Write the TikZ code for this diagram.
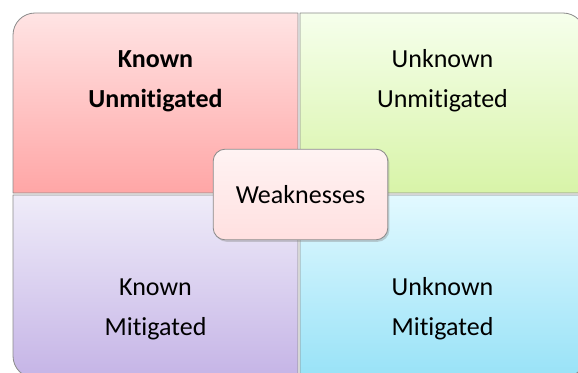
\documentclass[tikz,border=0pt]{standalone}
\usepackage{fontspec}
\setmainfont[Ligatures=NoCommon]{Carlito}
\usetikzlibrary{shadows}

\definecolor{tlTop}{HTML}{FFE4E4}
\definecolor{tlBot}{HTML}{FFA6A6}
\definecolor{trTop}{HTML}{F6FFEC}
\definecolor{trBot}{HTML}{D8F4A8}
\definecolor{blTop}{HTML}{EFECF9}
\definecolor{blBot}{HTML}{C5B4E6}
\definecolor{brTop}{HTML}{E2F9FF}
\definecolor{brBot}{HTML}{98E2F7}
\definecolor{ctTop}{HTML}{FFF3F3}
\definecolor{ctBot}{HTML}{FFE0E0}
\definecolor{edgeGray}{HTML}{8A8A8A}

\begin{document}
\begin{tikzpicture}[x=0.75pt,y=0.75pt]
\tikzset{
  quadfill/.style={draw=edgeGray,line width=0.6pt,line join=round},
  quadlabel/.style={anchor=base,align=center,inner sep=0pt,font=\fontsize{19.5}{30}\selectfont},
  centerbox/.style={draw=edgeGray,line width=0.6pt,rounded corners=9pt,minimum width=131pt,minimum height=68pt,
    top color=ctTop,bottom color=ctBot,drop shadow={opacity=0.35,shadow xshift=1.2pt,shadow yshift=-1.5pt},
    font=\fontsize{19.5}{24}\selectfont,inner sep=0pt}
}
\useasboundingbox (0,0) rectangle (578,372);
\clip (0,0) rectangle (578,372);
% quadrants
\shadedraw[quadfill,top color=tlTop,bottom color=tlBot] (13,179) -- (13,337) arc[start angle=180,end angle=90,radius=22] -- (298,359) -- (298,179) -- cycle;
\shadedraw[quadfill,top color=trTop,bottom color=trBot] (300,179) -- (300,359) -- (563,359) arc[start angle=90,end angle=0,radius=22] -- (585,179) -- cycle;
\shadedraw[quadfill,top color=blTop,bottom color=blBot] (13,177) -- (298,177) -- (298,-6) -- (35,-6) arc[start angle=270,end angle=180,radius=22] -- cycle;
\shadedraw[quadfill,top color=brTop,bottom color=brBot] (300,177) -- (585,177) -- (585,16) arc[start angle=0,end angle=-90,radius=22] -- (300,-6) -- cycle;
% labels (base = last line)
\node[quadlabel,font=\fontsize{19.5}{30}\selectfont\bfseries] (knownUnmit) at (155.5,264) {Known\\Unmitigated};
\node[quadlabel] (unknownUnmit) at (442.5,264) {Unknown\\Unmitigated};
\node[quadlabel] (knownMit) at (155.5,37) {Known\\Mitigated};
\node[quadlabel] (unknownMit) at (442.5,37) {Unknown\\Mitigated};
% centre
\node[centerbox] (weak) at (300.5,177.5) {Weaknesses};
\end{tikzpicture}
\end{document}
